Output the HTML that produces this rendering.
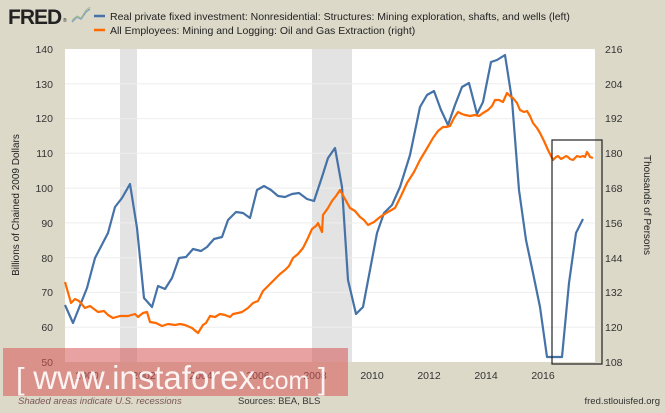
<!DOCTYPE html>
<html><head><meta charset="utf-8"><style>
body{margin:0;width:665px;height:408px;overflow:hidden;background:#dcd9c9;font-family:"Liberation Sans",sans-serif}
</style></head><body>
<svg width="665" height="408" xmlns="http://www.w3.org/2000/svg" font-family="Liberation Sans, sans-serif">
<rect width="665" height="408" fill="#dcd9c9"/>
<text x="8" y="24" font-size="21" font-weight="bold" fill="#222" letter-spacing="-1">FRED</text>
<text x="63" y="22" font-size="5" fill="#222">®</text>
<polyline points="72,22 77,17 81,19 86,12 90,9" fill="none" stroke="#8aa0c0" stroke-width="1.5"/>
<polyline points="72,20 77,16 81,18 86,10 90,7" fill="none" stroke="#9cc08a" stroke-width="1"/>
<line x1="94" y1="16" x2="105" y2="16" stroke="#4572a7" stroke-width="2.5"/>
<text x="110" y="20" font-size="10.5" fill="#222">Real private fixed investment: Nonresidential: Structures: Mining exploration, shafts, and wells (left)</text>
<line x1="94" y1="30" x2="105" y2="30" stroke="#ff6a00" stroke-width="2.5"/>
<text x="110" y="34" font-size="10.5" fill="#222">All Employees: Mining and Logging: Oil and Gas Extraction (right)</text>
<rect x="65" y="49" width="530" height="313" fill="#fff"/>
<rect x="120" y="49" width="17" height="313" fill="#e3e3e3"/>
<rect x="312" y="49" width="40" height="313" fill="#e3e3e3"/>
<g stroke="#eeeeee" stroke-width="1">
<line x1="65" y1="83.8" x2="595" y2="83.8"/><line x1="65" y1="118.6" x2="595" y2="118.6"/><line x1="65" y1="153.3" x2="595" y2="153.3"/><line x1="65" y1="188.1" x2="595" y2="188.1"/><line x1="65" y1="222.9" x2="595" y2="222.9"/><line x1="65" y1="257.7" x2="595" y2="257.7"/><line x1="65" y1="292.4" x2="595" y2="292.4"/><line x1="65" y1="327.2" x2="595" y2="327.2"/>
</g>
<g font-size="10.5" fill="#333" text-anchor="end">
<text x="53" y="53">140</text><text x="53" y="88">130</text><text x="53" y="122">120</text><text x="53" y="157">110</text><text x="53" y="192">100</text><text x="53" y="227">90</text><text x="53" y="262">80</text><text x="53" y="296">70</text><text x="53" y="331">60</text><text x="53" y="366">50</text>
</g>
<g font-size="10.5" fill="#333">
<text x="605" y="53">216</text><text x="605" y="88">204</text><text x="605" y="122">192</text><text x="605" y="157">180</text><text x="605" y="192">168</text><text x="605" y="227">156</text><text x="605" y="262">144</text><text x="605" y="296">132</text><text x="605" y="331">120</text><text x="605" y="366">108</text>
</g>
<text transform="translate(19,205) rotate(-90)" font-size="10" fill="#222" text-anchor="middle">Billions of Chained 2009 Dollars</text>
<text transform="translate(644,205) rotate(90)" font-size="10" fill="#222" text-anchor="middle">Thousands of Persons</text>
<g font-size="10.5" fill="#333" text-anchor="middle">
<text x="87" y="379">2000</text><text x="144" y="379">2002</text><text x="201" y="379">2004</text><text x="258" y="379">2006</text><text x="315" y="379">2008</text><text x="372" y="379">2010</text><text x="429" y="379">2012</text><text x="486" y="379">2014</text><text x="543" y="379">2016</text>
</g>
<polyline fill="none" stroke="#4572a7" stroke-width="2.2" stroke-linejoin="round" points="65,305 73,323 87,288 95,258 108,233 115,207 122,198 130,184 137,228 144,298 152,307 158,286 165,289 172,278 179,258 186,257 193,249 201,251 207,247 214,239 222,237 228,220 236,212 243,213 250,218 257,190 264,186 271,190 278,196 285,197 292,194 299,193 307,199 314,201 322,177 328,158 335,148 342,187 348,280 356,314 363,307 377,233 384,213 392,205 400,187 410,155 420,107 427,95 434,91 441,110 448,125 455,105 462,87 469,83 477,114 483,102 491,62 497,60 505,55 512,100 519,190 526,240 533,273 540,307 547,357 562,357 569,283 576,233 583,219"/>
<polyline fill="none" stroke="#ff6a00" stroke-width="2.2" stroke-linejoin="round" points="65,282 71,303 75,299 79,301 85,308 90,306 98,312 104,311 108,315 113,318 120,316 128,316 135,314 138,317 143,313 147,312 150,322 156,323 162,326 168,324 175,325 180,324 185,325 192,328 198,333 203,325 206,323 210,316 215,317 220,314 225,315 230,317 233,314 238,313 242,312 248,308 253,303 258,301 263,291 268,286 275,279 280,274 285,270 289,266 293,258 298,254 303,248 308,238 312,229 316,226 318,223 322,232 323,215 328,208 332,201 336,196 340,190 345,199 350,208 355,211 360,217 364,220 368,225 374,222 380,217 388,212 395,208 401,196 407,183 414,172 420,160 426,150 433,138 438,131 443,127 446,127 450,126 454,118 458,112 462,114 465,115 470,116 475,115 479,116 483,113 488,110 492,106 495,100 499,100 503,102 507,93 510,96 513,98 517,103 520,110 524,112 527,111 530,116 533,123 537,128 540,133 544,141 548,150 551,156 553,160 556,157 558,156 561,159 563,158 566,156 568,157 570,159 573,160 575,158 577,156 580,157 583,156 585,157 587,152 589,155 590,157 593,158"/>
<rect x="552" y="140" width="50" height="224" fill="none" stroke="#222" stroke-width="1.2"/>
<rect x="3" y="348" width="345" height="48" fill="rgba(215,85,85,0.55)"/>
<text x="16" y="389" fill="#fff" opacity="0.9" font-size="31"><tspan>[ </tspan><tspan font-size="33">www.instaforex</tspan><tspan font-size="25">.com</tspan><tspan> ]</tspan></text>
<text x="18" y="404" font-size="9.5" fill="#7a5555" font-style="italic">Shaded areas indicate U.S. recessions</text>
<text x="238" y="404" font-size="9.5" fill="#333">Sources: BEA, BLS</text>
<text x="660" y="404" font-size="9.5" fill="#333" text-anchor="end">fred.stlouisfed.org</text>
</svg>
</body></html>
